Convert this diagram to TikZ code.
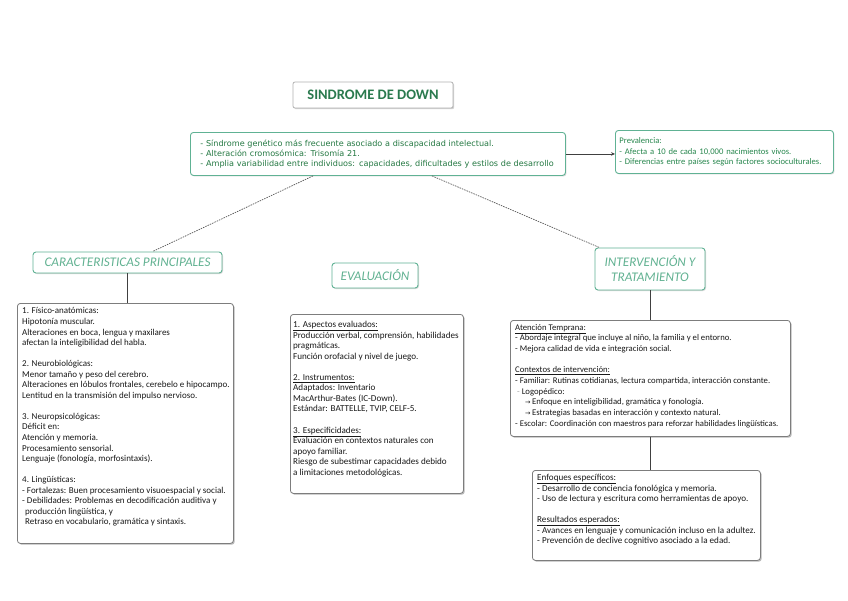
\documentclass[tikz,border=0pt]{standalone}
\usepackage{fontspec}
\setmainfont{Carlito}
\newfontfamily\vfont{DejaVu Sans}
\usetikzlibrary{shadows,arrows.meta,calc}
\definecolor{tealline}{RGB}{96,178,148}
\definecolor{titlegreen}{RGB}{42,122,78}
\definecolor{headgreen}{RGB}{98,178,146}
\definecolor{maingreen}{RGB}{36,120,66}
\definecolor{prevgreen}{RGB}{40,135,78}
\definecolor{boxgray}{RGB}{125,125,125}
\begin{document}
\begin{tikzpicture}[x=1pt,y=-1pt,
  graybox/.style={draw=boxgray, line width=0.8pt, rounded corners=3pt, fill=white,
    drop shadow={shadow xshift=1.3pt, shadow yshift=-1.3pt, fill=black!45, opacity=0.6},
    anchor=north west, inner sep=0pt},
  tealbox/.style={draw=tealline, line width=0.9pt, rounded corners=3pt, fill=white,
    drop shadow={shadow xshift=1pt, shadow yshift=-1pt, fill=black!30, opacity=0.5}},
  headbox/.style={tealbox, font=\fontsize{13.2}{15}\selectfont\itshape, text=headgreen, align=center, inner sep=0pt},
  body/.style={anchor=north west, inner sep=0pt, align=left, text=black!90},
  conn/.style={draw=black!75, line width=0.6pt},
  dashconn/.style={draw=black!65, line width=0.7pt, dash pattern=on 1.5pt off 1pt},
]
\useasboundingbox (0,0) rectangle (848,600);
\fill[white] (0,0) rectangle (848,600);

% title
\node[draw=black!30, line width=0.8pt, rounded corners=2pt, fill=white,
  drop shadow={shadow xshift=1.2pt, shadow yshift=-1.2pt, fill=black!35, opacity=0.5},
  minimum width=160pt, minimum height=26pt, inner sep=0pt,
  font=\fontsize{14.5}{16}\selectfont\bfseries, text=titlegreen] (title) at (373,95) {SINDROME DE DOWN};

% main description
\node[tealbox, anchor=north west, minimum width=375pt, minimum height=43pt, text width=367pt,
  inner xsep=4pt, inner ysep=0pt, align=left, font=\vfont\fontsize{8.1}{10}\selectfont, text=maingreen]
  (main) at (190,132) {\hspace*{6pt}- Síndrome genético más frecuente asociado a discapacidad intelectual.\\
\hspace*{6pt}- Alteración cromosómica: Trisomía 21.\\
\hspace*{6pt}- Amplia variabilidad entre individuos: capacidades, dificultades y estilos de desarrollo};

% prevalence
\node[tealbox, anchor=north west, minimum width=218pt, minimum height=43pt, text width=210pt,
  inner xsep=4pt, inner ysep=0pt, align=left, font=\fontsize{8.6}{10.5}\selectfont, text=prevgreen]
  (prev) at (615,130) {Prevalencia:\\
- Afecta a 10 de cada 10,000 nacimientos vivos.\\
- Diferencias entre países según factores socioculturales.};

\draw[conn, -{Stealth[length=4pt,width=3.5pt]}] (main.east) -- (main.east -| prev.west);

% headings
\node[headbox, minimum width=189pt, minimum height=21pt] (car) at (127.5,262.5) {CARACTERISTICAS PRINCIPALES};
\node[headbox, minimum width=86pt, minimum height=25pt] (eval) at (375,275.5) {EVALUACIÓN};
\node[headbox, minimum width=110pt, minimum height=42pt] (inter) at (650,269) {INTERVENCIÓN Y\\TRATAMIENTO};

\draw[dashconn] ($(main.south west)+(123,0)$) -- ($(car.north)+(25,0)$);
\draw[dashconn] ($(main.south west)+(242,0)$) -- ($(inter.north west)+(5,0)$);

% content boxes
\node[graybox, minimum width=216pt, minimum height=240pt] (carbox) at (17,303) {};
\node[graybox, minimum width=173pt, minimum height=179pt] (evalbox) at (290,314) {};
\node[graybox, minimum width=280pt, minimum height=116pt] (interbox) at (510,320) {};
\node[graybox, minimum width=228pt, minimum height=90pt] (enfbox) at (532,470) {};

\draw[conn] (car.south) -- (car.south |- carbox.north);
\draw[conn] (inter.south) -- (inter.south |- interbox.north);
\draw[conn] (interbox.south) -- (interbox.south |- enfbox.north);

% texts
\node[body, font=\fontsize{9}{10.55}\selectfont] (cartext) at (22,307.5) {1. Físico-anatómicas:\\
Hipotonía muscular.\\
Alteraciones en boca, lengua y maxilares\\
afectan la inteligibilidad del habla.\\[10.55pt]
2. Neurobiológicas:\\
Menor tamaño y peso del cerebro.\\
Alteraciones en lóbulos frontales, cerebelo e hipocampo.\\
Lentitud en la transmisión del impulso nervioso.\\[10.55pt]
3. Neuropsicológicas:\\
Déficit en:\\
Atención y memoria.\\
Procesamiento sensorial.\\
Lenguaje (fonología, morfosintaxis).\\[10.55pt]
4. Lingüísticas:\\
- Fortalezas: Buen procesamiento visuoespacial y social.\\
- Debilidades: Problemas en decodificación auditiva y\\
\hspace*{3pt}producción lingüística, y\\
\hspace*{3pt}Retraso en vocabulario, gramática y sintaxis.};

\node[body, font=\fontsize{9.1}{10.55}\selectfont] (evaltext) at (293,321) {\underline{1. Aspectos evaluados:}\\
Producción verbal, comprensión, habilidades\\
pragmáticas.\\
Función orofacial y nivel de juego.\\[10.55pt]
\underline{2. Instrumentos:}\\
Adaptados: Inventario\\
MacArthur-Bates (IC-Down).\\
Estándar: BATTELLE, TVIP, CELF-5.\\[10.55pt]
\underline{3. Especificidades:}\\
Evaluación en contextos naturales con\\
apoyo familiar.\\
Riesgo de subestimar capacidades debido\\
a limitaciones metodológicas.};

\node[body, font=\fontsize{8.7}{10.65}\selectfont] (intertext) at (515,324) {\underline{Atención Temprana:}\\
- Abordaje integral que incluye al niño, la familia y el entorno.\\
- Mejora calidad de vida e integración social.\\[10.65pt]
\underline{Contextos de intervención:}\\
- Familiar: Rutinas cotidianas, lectura compartida, interacción constante.\\
\hspace*{2pt}{\color{black!35}-} Logopédico:\\
\hspace*{10pt}{\vfont\fontsize{6.5}{8}\selectfont →}\,Enfoque en inteligibilidad, gramática y fonología.\\
\hspace*{10pt}{\vfont\fontsize{6.5}{8}\selectfont →}\,Estrategias basadas en interacción y contexto natural.\\
- Escolar: Coordinación con maestros para reforzar habilidades lingüísticas.};

\node[body, font=\fontsize{9.1}{10.5}\selectfont] (enftext) at (537,474) {\underline{Enfoques específicos:}\\
- Desarrollo de conciencia fonológica y memoria.\\
- Uso de lectura y escritura como herramientas de apoyo.\\[10.5pt]
\underline{Resultados esperados:}\\
- Avances en lenguaje y comunicación incluso en la adultez.\\
- Prevención de declive cognitivo asociado a la edad.};
\end{tikzpicture}
\end{document}
